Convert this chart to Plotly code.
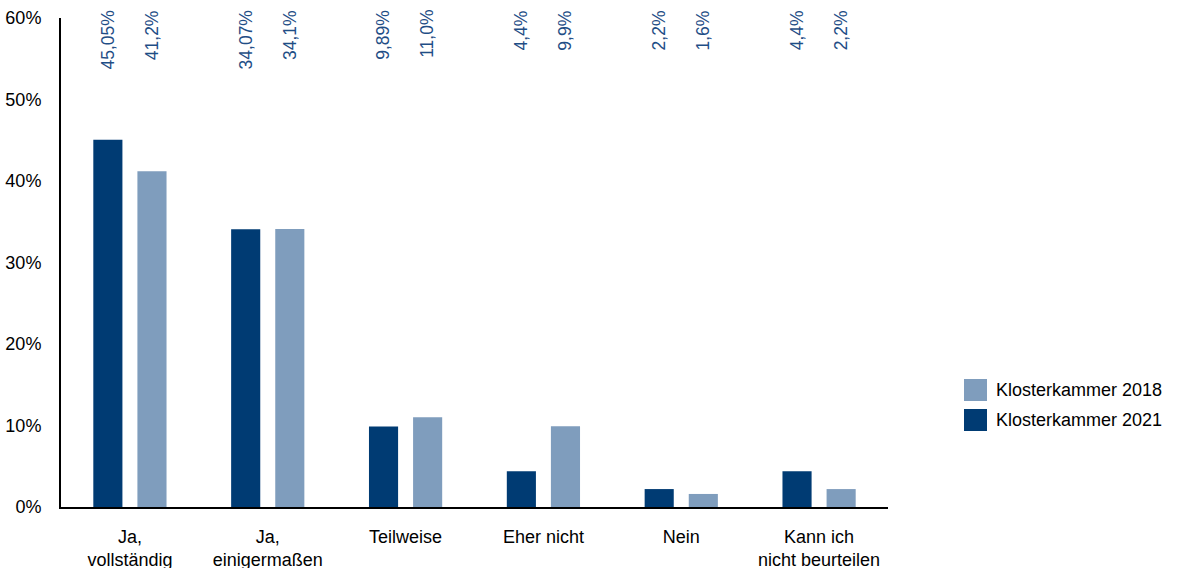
import plotly.graph_objects as go

categories = ["Ja,<br>vollständig", "Ja,<br>einigermaßen", "Teilweise",
              "Eher nicht", "Nein", "Kann ich<br>nicht beurteilen"]
values_2021 = [45.05, 34.07, 9.89, 4.4, 2.2, 4.4]
labels_2021 = ["45,05%", "34,07%", "9,89%", "4,4%", "2,2%", "4,4%"]
values_2018 = [41.2, 34.1, 11.0, 9.9, 1.6, 2.2]
labels_2018 = ["41,2%", "34,1%", "11,0%", "9,9%", "1,6%", "2,2%"]
y_ticks = [0, 10, 20, 30, 40, 50, 60]
y_tick_text = ["0%", "10%", "20%", "30%", "40%", "50%", "60%"]

DARK = "#003b73"
LIGHT = "#7f9dbd"
LABEL = "#1f4e86"
FONT = "Liberation Sans, Arial, sans-serif"

x = list(range(len(categories)))
bargap = 0.36
groupgap = 0.34
slot = (1 - bargap) / 2
offset = slot / 2

fig = go.Figure()
fig.add_trace(go.Bar(x=x, y=values_2021, name="Klosterkammer 2021",
                     marker=dict(color=DARK, line=dict(width=0)), showlegend=False))
fig.add_trace(go.Bar(x=x, y=values_2018, name="Klosterkammer 2018",
                     marker=dict(color=LIGHT, line=dict(width=0)), showlegend=False))

# rotated value labels along the top edge
for i in x:
    for dx, txt in ((-offset, labels_2021[i]), (offset, labels_2018[i])):
        fig.add_annotation(x=i + dx, xref="x", y=1.02, yref="paper",
                           text=txt, textangle=-90, showarrow=False,
                           xanchor="center", yanchor="top",
                           font=dict(size=17.5, color=LABEL, family=FONT))

# legend swatches
legend_items = [("Klosterkammer 2018", LIGHT, 379), ("Klosterkammer 2021", DARK, 409)]
W, H = 1184, 568
ml, mr, mt, mb = 61, 296, 18, 61
pw, ph = W - ml - mr, H - mt - mb
for name, col, top in legend_items:
    x0 = (964 - ml) / pw
    x1 = (987 - ml) / pw
    y0 = (H - mb - (top + 22)) / ph
    y1 = (H - mb - top) / ph
    fig.add_shape(type="rect", xref="paper", yref="paper", x0=x0, x1=x1, y0=y0, y1=y1,
                  fillcolor=col, line=dict(width=0))
    fig.add_annotation(x=(994 - ml) / pw, xref="paper", y=(y0 + y1) / 2, yref="paper",
                       text=name, showarrow=False, xanchor="left", yanchor="middle",
                       font=dict(size=18, color="#000000", family=FONT))

fig.update_layout(
    width=W, height=H,
    margin=dict(l=ml, r=mr, t=mt, b=mb, pad=0, autoexpand=False),
    paper_bgcolor="white", plot_bgcolor="white",
    barmode="group", bargap=bargap, bargroupgap=groupgap,
    font=dict(family=FONT, size=18, color="#000000"),
    showlegend=False,
)
fig.update_xaxes(range=[-0.5, len(categories) - 0.5], tickvals=x, ticktext=categories,
                 showline=True, linecolor="#000000", linewidth=2, showgrid=False,
                 zeroline=False, ticks="", ticklabelstandoff=12, automargin=False,
                 tickfont=dict(size=18, family=FONT))
fig.update_yaxes(range=[0, 60], tickvals=y_ticks, ticktext=y_tick_text,
                 showline=True, linecolor="#000000", linewidth=2, showgrid=False,
                 zeroline=False, ticks="", ticklabelstandoff=14, automargin=False,
                 tickfont=dict(size=18, family=FONT))

fig.write_html("out.html")
